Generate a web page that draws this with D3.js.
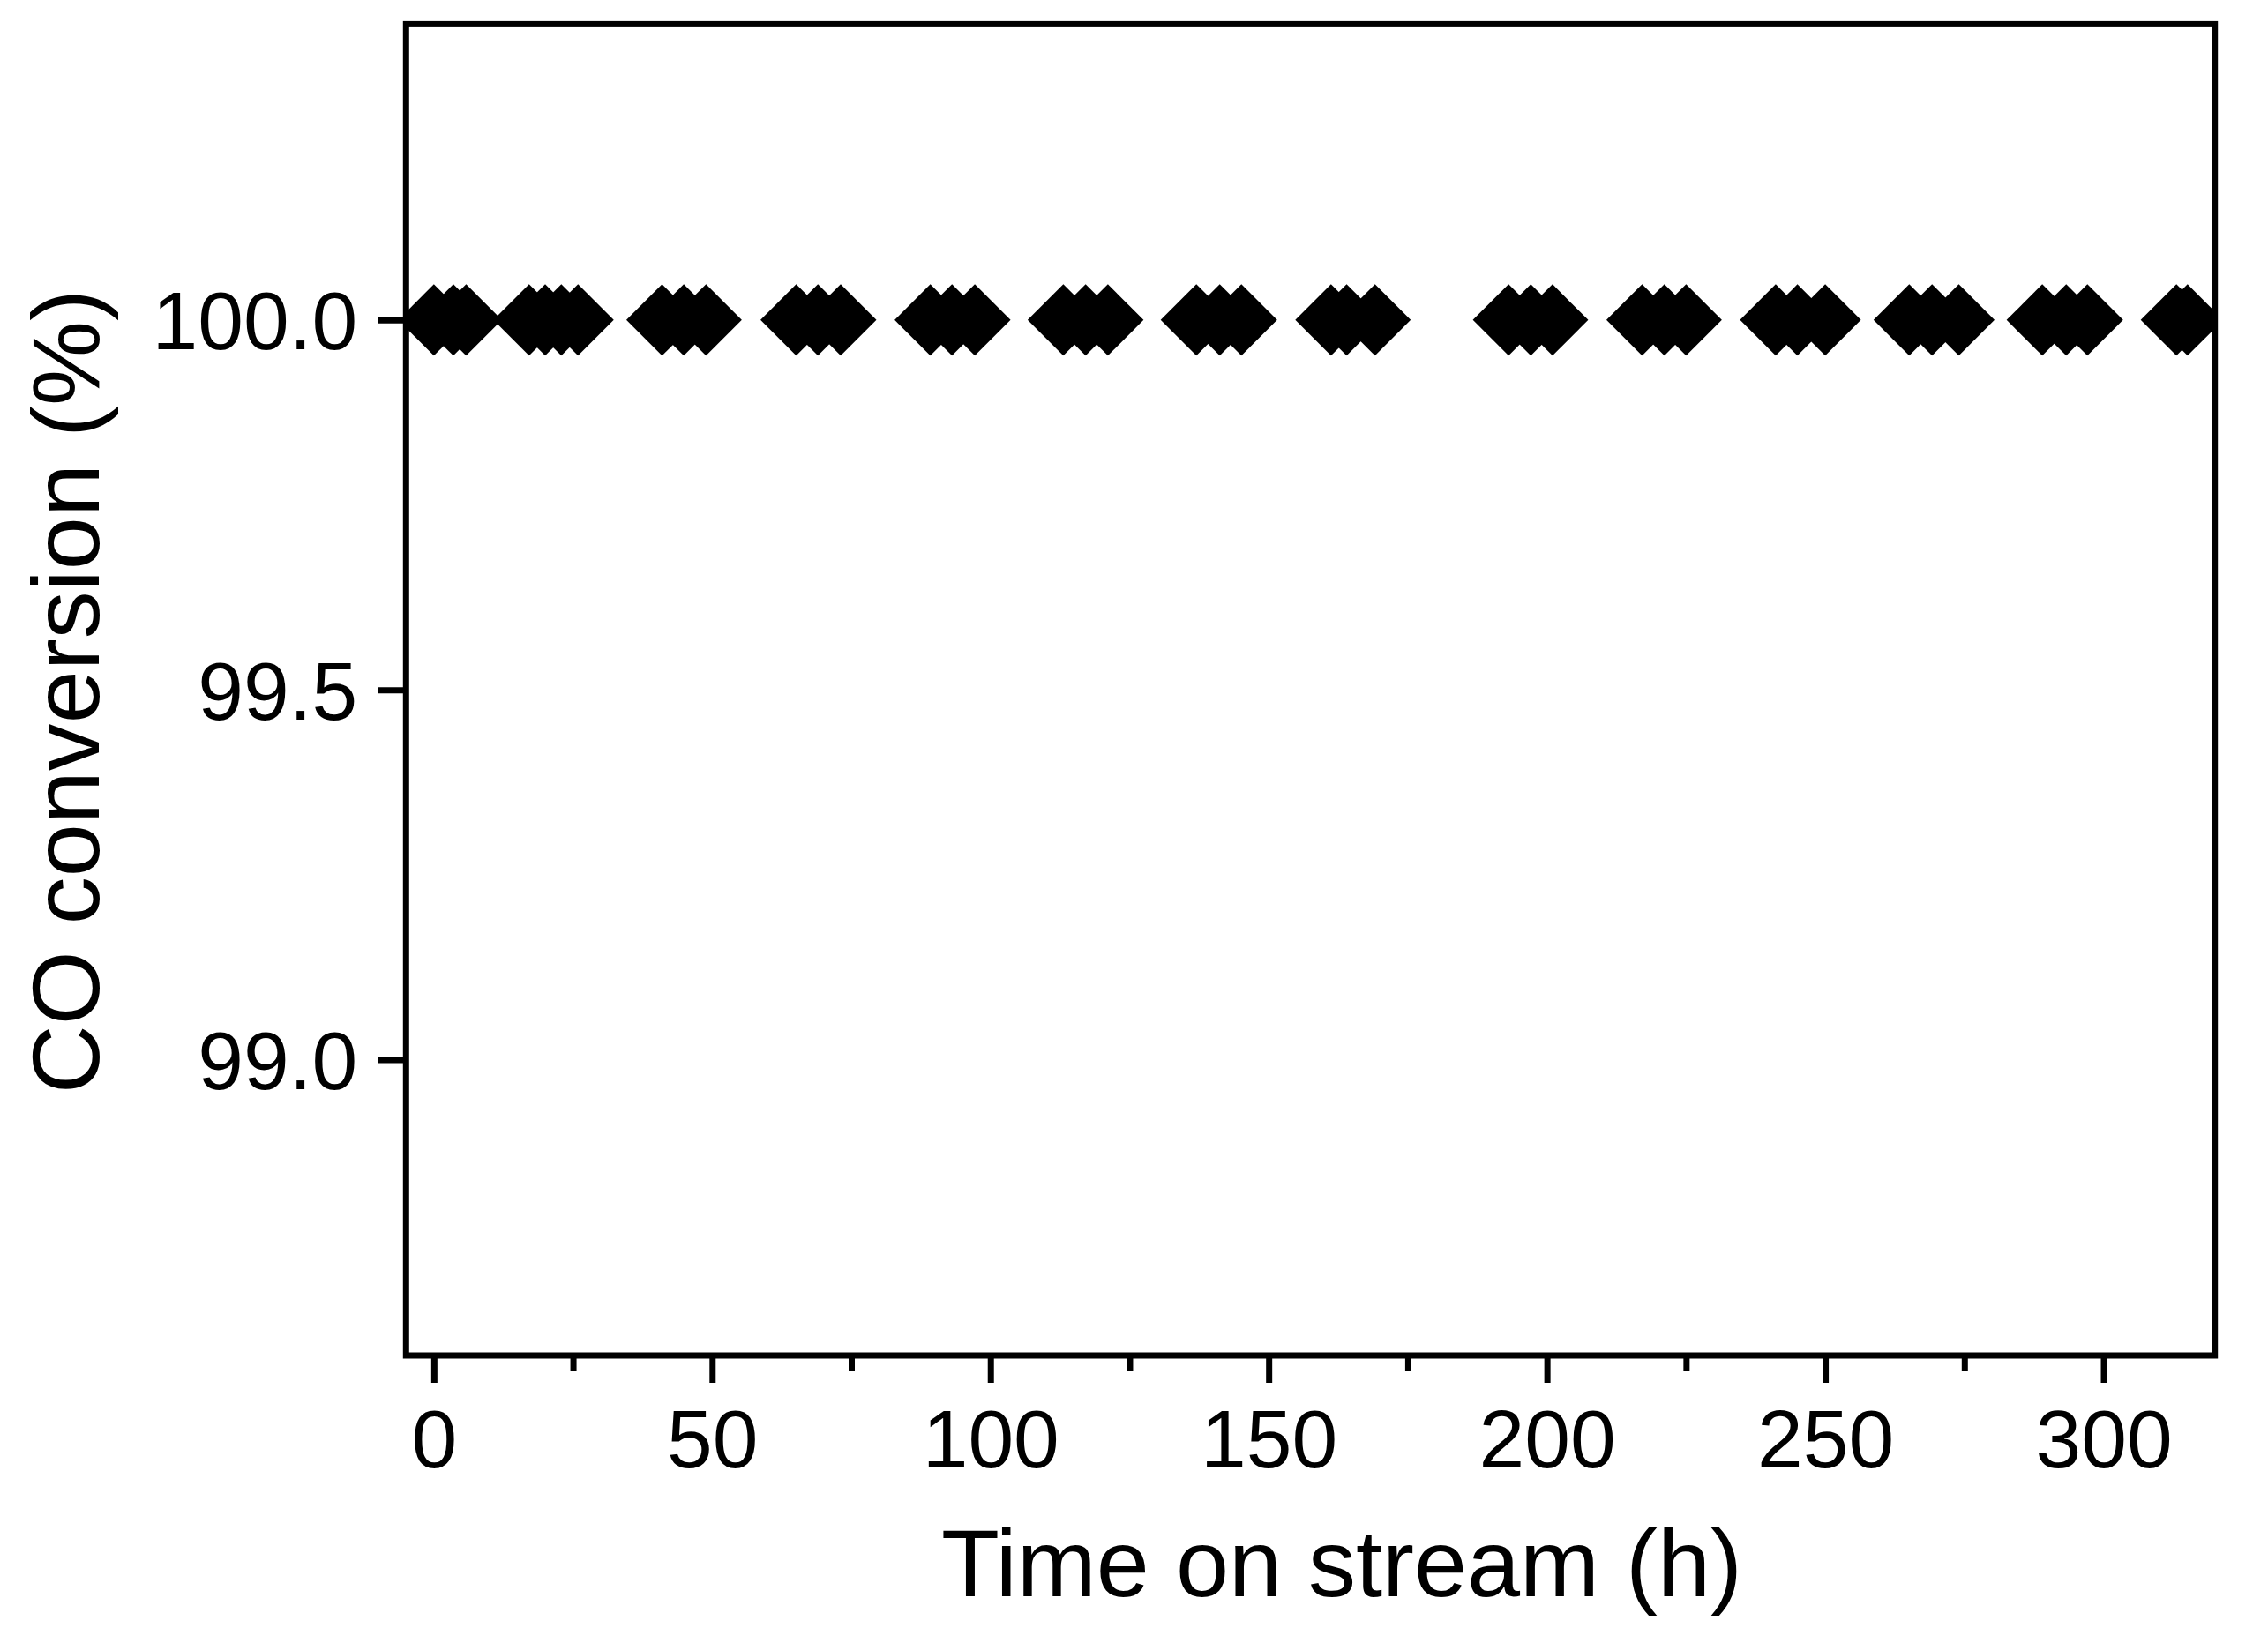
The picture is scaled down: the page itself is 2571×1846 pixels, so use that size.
<!DOCTYPE html>
<html>
<head>
<meta charset="utf-8">
<script src="https://cdn.jsdelivr.net/npm/d3@7"></script>
<style>
  html, body { margin: 0; padding: 0; background: #fff; }
  svg { display: block; }
  text { font-family: "Liberation Sans", Arial, sans-serif; fill: #000; }
</style>
</head>
<body>
<div id="chart"></div>
<script>
// ---- data ----
const timeHours = [
  0, 3.5, 5.8,
  17.1, 20.0, 22.9, 25.9,
  41.0, 44.9, 48.9,
  65.1, 69.0, 73.1,
  89.2, 93.1, 97.2,
  113.1, 117.1, 121.1,
  137.0, 141.2, 145.1,
  161.2, 164.0, 169.1,
  193.1, 197.1, 201.0,
  217.1, 221.1, 225.0,
  241.1, 245.0, 250.0,
  265.1, 269.2, 274.0,
  289.0, 293.3, 297.1,
  313.1, 315.1
];
const coConversion = timeHours.map(() => 100.0);
const xTicks = [0, 50, 100, 150, 200, 250, 300];
const xMinorTicks = [25, 75, 125, 175, 225, 275];
const yTicks = [99.0, 99.5, 100.0];
const xLabel = "Time on stream (h)";
const yLabel = "CO conversion (%)";

// ---- layout ----
const W = 2571, H = 1846;
const mLeft = 460.3, mRight = 2510.7, mTop = 27.4, mBottom = 1537;
const lw = 7;

const svg = d3.select("#chart").append("svg")
  .attr("width", W).attr("height", H);

const x = d3.scaleLinear().domain([-5, 320]).range([mLeft, mRight]);
const y = d3.scaleLinear().domain([98.6, 100.4]).range([mBottom, mTop]);

// clip
svg.append("defs").append("clipPath").attr("id", "plotclip")
  .append("rect").attr("x", mLeft).attr("y", mTop)
  .attr("width", mRight - mLeft).attr("height", mBottom - mTop);

// markers
const side = 40.5 * Math.SQRT2;
const sym = d3.symbol().type(d3.symbolSquare).size(side * side);
svg.append("g").attr("clip-path", "url(#plotclip)")
  .selectAll("path").data(timeHours.map((t, i) => [t, coConversion[i]]))
  .join("path")
  .attr("d", sym)
  .attr("transform", d => `translate(${x(d[0])},${y(d[1])}) rotate(45)`)
  .attr("fill", "#000");

// x axis major
const gx = svg.append("g").attr("transform", `translate(0,${mBottom})`)
  .call(d3.axisBottom(x).tickValues(xTicks).tickSize(31).tickFormat(d3.format("d")));
gx.select(".domain").remove();
gx.selectAll(".tick line").attr("stroke", "#000").attr("stroke-width", lw);
gx.selectAll(".tick text").attr("y", 127).attr("dy", 0)
  .style("font-size", "93px").style("font-family", '"Liberation Sans", Arial, sans-serif');

// x axis minor
const gxm = svg.append("g").attr("transform", `translate(0,${mBottom})`)
  .call(d3.axisBottom(x).tickValues(xMinorTicks).tickSize(18).tickFormat(""));
gxm.select(".domain").remove();
gxm.selectAll(".tick line").attr("stroke", "#000").attr("stroke-width", lw);

// y axis
const gy = svg.append("g").attr("transform", `translate(${mLeft},0)`)
  .call(d3.axisLeft(y).tickValues(yTicks).tickSize(32).tickFormat(d3.format(".1f")));
gy.select(".domain").remove();
gy.selectAll(".tick line").attr("stroke", "#000").attr("stroke-width", lw);
gy.selectAll(".tick text").attr("x", -55).attr("dy", "0.355em")
  .style("font-size", "93px").style("font-family", '"Liberation Sans", Arial, sans-serif');

// frame
svg.append("rect")
  .attr("x", mLeft).attr("y", mTop)
  .attr("width", mRight - mLeft).attr("height", mBottom - mTop)
  .attr("fill", "none").attr("stroke", "#000").attr("stroke-width", lw);

// axis titles
svg.append("text")
  .attr("x", 1521).attr("y", 1810)
  .attr("text-anchor", "middle")
  .style("font-size", "108px")
  .text(xLabel);

svg.append("text")
  .attr("transform", `translate(112,${(mTop + mBottom) / 2 + 2}) rotate(-90)`)
  .attr("text-anchor", "middle")
  .style("font-size", "108px")
  .text(yLabel);
</script>
</body>
</html>
